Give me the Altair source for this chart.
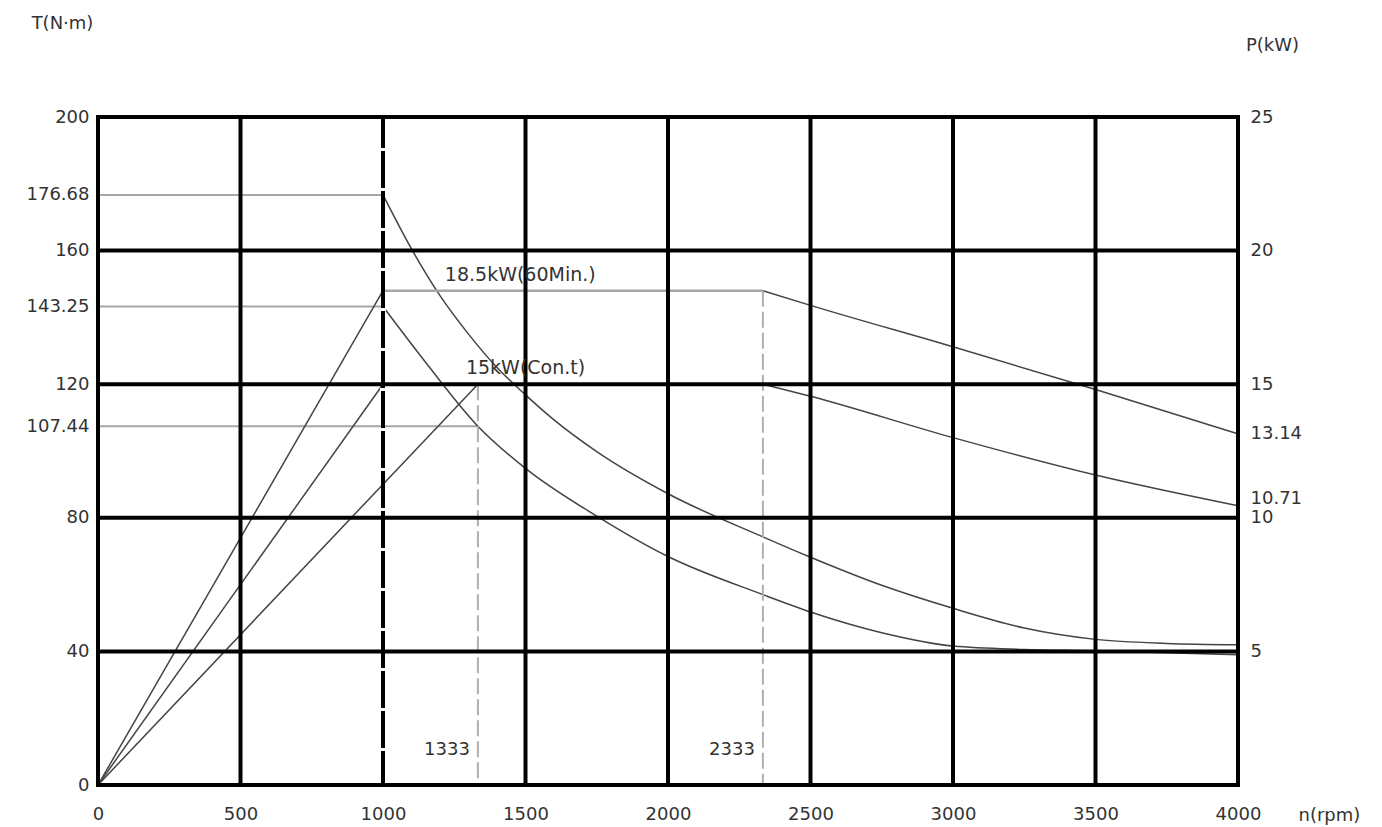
import altair as alt
import pandas as pd

# ---------------- data ----------------
rpm_ticks = [0, 500, 1000, 1500, 2000, 2500, 3000, 3500, 4000]
torque_grid = [0, 40, 80, 120, 160, 200]
torque_ticks = [0, 40, 80, 107.44, 120, 143.25, 160, 176.68, 200]
power_ticks = [5, 10, 10.71, 13.14, 15, 20, 25]

# torque curve above base speed, 18.5 kW (60 min)
t60_rpm = [1000, 1100, 1200, 1300, 1400, 1500, 1600, 1750, 2000, 2333, 2500, 2750, 3000, 3250, 3500, 3750, 4000]
t60_nm = [176.68, 160.5, 146.5, 135.0, 125.0, 116.8, 109.3, 99.8, 87.2, 74.3, 68.2, 59.8, 52.9, 47.0, 43.6, 42.4, 42.0]
# torque curve above base speed, 15 kW (continuous)
tcon_rpm = [1000, 1150, 1333, 1500, 1750, 2000, 2333, 2500, 2750, 3000, 3250, 3500, 3750, 4000]
tcon_nm = [143.25, 126.5, 107.44, 94.8, 80.5, 68.4, 57.0, 51.8, 45.6, 41.6, 40.6, 40.2, 39.6, 39.0]
# constant-torque segments
flat_torque_nm = [176.68, 143.25, 107.44]
flat_torque_end_rpm = [1000, 1000, 1333]

# power curves (kW)
p60_rpm = [0, 1000, 2333, 2500, 3000, 3500, 4000]
p60_kw = [0, 18.5, 18.5, 17.95, 16.4, 14.8, 13.14]
pcon_rpm = [0, 1000, 2333, 2500, 3000, 3500, 4000]
pcon_kw = [0, 15, 15, 14.55, 13.0, 11.6, 10.45]
pcon2_rpm = [0, 1333]
pcon2_kw = [0, 15]

# dashed speed markers
marker_rpm = [1333, 2333]
marker_kw = [15, 18.5]
marker_text = ["1333", "2333"]
marker_label_nm = [10.5, 10.5]
base_rpm = [1000]

notes = ["18.5kW(60Min.)", "15kW(Con.t)"]
note_rpm = [1217, 1291]
note_kw = [18.5, 15]

# ---------------- tables ----------------
flat_t = pd.DataFrame(
    [{"seg": i, "rpm": r, "nm": v} for i, (v, e) in enumerate(zip(flat_torque_nm, flat_torque_end_rpm)) for r in (0, e)]
)
curves_t = pd.DataFrame(
    [{"seg": "t60", "rpm": r, "nm": v} for r, v in zip(t60_rpm, t60_nm)]
    + [{"seg": "tcon", "rpm": r, "nm": v} for r, v in zip(tcon_rpm, tcon_nm)]
)


def part(name, rpms, kws, lo, hi):
    return [{"seg": name, "rpm": r, "kw": k} for r, k in zip(rpms, kws) if lo <= r <= hi]


p_rise = pd.DataFrame(
    part("p60", p60_rpm, p60_kw, 0, 1000) + part("pcon", pcon_rpm, pcon_kw, 0, 1000)
    + part("pcon2", pcon2_rpm, pcon2_kw, 0, 1333)
)
p_flat = pd.DataFrame(part("p60", p60_rpm, p60_kw, 1000, 2333) + part("pcon", pcon_rpm, pcon_kw, 1000, 2333))
p_fall = pd.DataFrame(part("p60", p60_rpm, p60_kw, 2333, 4000) + part("pcon", pcon_rpm, pcon_kw, 2333, 4000))

markers = pd.DataFrame({"rpm": marker_rpm, "kw": marker_kw, "zero": [0, 0], "text": marker_text, "nm": marker_label_nm})
base = pd.DataFrame({"rpm": base_rpm, "top": [200], "bot": [0]})
note_df = pd.DataFrame({"rpm": note_rpm, "kw": note_kw, "text": notes})
vgrid = pd.DataFrame({"rpm": rpm_ticks})
hgrid = pd.DataFrame({"nm": torque_grid})

# ---------------- encodings ----------------
FONT = "DejaVu Sans"
FS = 18
NOTE_FS = 19
TXT = "#333333"

xscale = alt.Scale(domain=[0, 4000], nice=False, zero=True)
tscale = alt.Scale(domain=[0, 200], nice=False, zero=True)
pscale = alt.Scale(domain=[0, 25], nice=False, zero=True)

x_axis = alt.Axis(
    values=rpm_ticks, format="d", grid=False, ticks=False, domain=False, labelFlush=False,
    labelPadding=20, labelFont=FONT, labelFontSize=FS, labelColor=TXT,
    title="n(rpm)", titleAngle=0, titleX=1200, titleY=30, titleAlign="left",
    titleBaseline="middle", titleFont=FONT, titleFontSize=FS, titleFontWeight="normal", titleColor=TXT,
)
X = alt.X("rpm:Q", scale=xscale, axis=x_axis)

t_axis = alt.Axis(
    values=torque_ticks, format=".2~f", grid=False, ticks=False, domain=False, labelFlush=False,
    labelPadding=9, labelFont=FONT, labelFontSize=FS, labelColor=TXT, labelOverlap=False,
    title="T(N·m)", titleAngle=0, titleX=-36, titleY=-94, titleAlign="center",
    titleBaseline="middle", titleFont=FONT, titleFontSize=FS, titleFontWeight="normal", titleColor=TXT,
)
p_axis = alt.Axis(
    orient="right", values=power_ticks, format=".2~f", grid=False, ticks=False, domain=False, labelFlush=False,
    labelPadding=12, labelFont=FONT, labelFontSize=FS, labelColor=TXT, labelOverlap=False,
    title="P(kW)", titleAngle=0, titleX=34, titleY=-72, titleAlign="center",
    titleBaseline="middle", titleFont=FONT, titleFontSize=FS, titleFontWeight="normal", titleColor=TXT,
)


def YT(field, axis=None):
    return alt.Y(field, type="quantitative", scale=tscale, axis=axis)


def YP(field, axis=None):
    return alt.Y(field, type="quantitative", scale=pscale, axis=axis)


DARK = "#444444"
LIGHT = "#a6a6a6"

l_flat_t = alt.Chart(flat_t).mark_line(color=LIGHT, strokeWidth=2).encode(
    x=X, y=YT("nm", t_axis), detail="seg:N"
)
l_curves_t = alt.Chart(curves_t).mark_line(color=DARK, strokeWidth=1.5, interpolate="monotone").encode(
    x=X, y=YT("nm"), detail="seg:N"
)
l_rise = alt.Chart(p_rise).mark_line(color=DARK, strokeWidth=1.5).encode(
    x=X, y=YP("kw", p_axis), detail="seg:N"
)
l_pflat = alt.Chart(p_flat).mark_line(color=LIGHT, strokeWidth=2.5).encode(
    x=X, y=YP("kw"), detail="seg:N"
)
l_fall = alt.Chart(p_fall).mark_line(color=DARK, strokeWidth=1.5, interpolate="monotone").encode(
    x=X, y=YP("kw"), detail="seg:N"
)
l_markers = alt.Chart(markers).mark_rule(color="#b0b0b0", strokeWidth=2, strokeDash=[16, 5]).encode(
    x=X, y=YP("kw"), y2="zero"
)
l_vgrid = alt.Chart(vgrid).mark_rule(color="black", strokeWidth=4, strokeCap="square").encode(x=X)
l_hgrid = alt.Chart(hgrid).mark_rule(color="black", strokeWidth=4, strokeCap="square").encode(y=YT("nm"))
l_base = alt.Chart(base).mark_rule(color="white", strokeWidth=6, strokeDash=[3, 37], strokeDashOffset=9).encode(
    x=X, y=YT("top"), y2="bot"
)
l_mtext = alt.Chart(markers).mark_text(
    align="right", baseline="middle", dx=-8, font=FONT, fontSize=FS, color=TXT
).encode(x=X, y=YT("nm"), text="text:N")
l_notes = alt.Chart(note_df).mark_text(
    align="left", baseline="alphabetic", dy=-10, font=FONT, fontSize=NOTE_FS, color=TXT
).encode(x=X, y=YP("kw"), text="text:N")

chart = (
    alt.layer(l_flat_t, l_curves_t, l_rise, l_pflat, l_fall, l_markers, l_vgrid, l_hgrid, l_base, l_mtext, l_notes)
    .resolve_scale(y="independent")
    .properties(
        width=1140, height=668,
        padding={"left": 90, "top": 109, "right": 136, "bottom": 42},
        autosize=alt.AutoSizeParams(type="none"),
        background="white",
    )
    .configure_view(stroke=None)
)

chart.save("out.html", embed_options={"renderer": "svg", "actions": False})
